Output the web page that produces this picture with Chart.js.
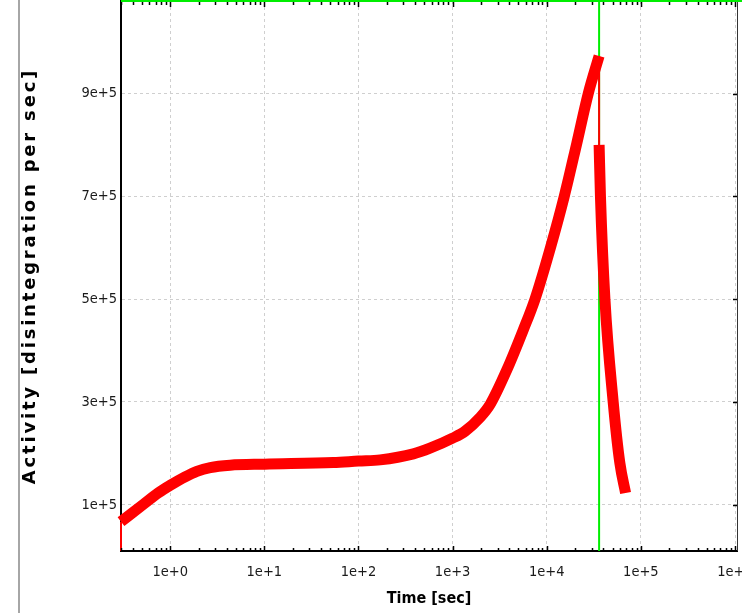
<!DOCTYPE html>
<html>
<head>
<meta charset="utf-8">
<script src="https://cdn.jsdelivr.net/npm/chart.js@4"></script>
<style>
  html, body { margin: 0; padding: 0; background: #fff; }
  #wrap { position: relative; width: 742px; height: 613px; overflow: hidden; }
  #frame { position: absolute; left: 18px; top: 0; width: 2px; height: 613px; background: #a6a6a6; }
</style>
</head>
<body>
<div id="wrap">
  <canvas id="activityChart" width="742" height="613"></canvas>
  <div id="frame"></div>
</div>
<script>
// values
const timeSec = [0.3, 0.3, 0.52, 0.75, 1, 1.44, 1.92, 2.66, 4.33, 10, 54, 100, 170, 383, 575, 1000, 1355,
  1960, 2500, 3760, 5630, 7500, 11000, 15350, 20780, 27600, 36000, 36000, 37200, 41500, 50800, 59800, 68800];
const activity = [0, 67000, 100900, 123300, 137800, 154300, 165000, 172400, 177000, 179000, 182000, 185000, 187300,
  199000, 210000, 229500, 243000, 270000, 295000, 362000, 440000, 500000, 601600, 700000, 802000, 900000, 973000,
  800000, 700000, 500000, 300000, 181000, 123000];
const markerTime = 36000;

const xTicks = [1, 10, 100, 1000, 10000, 100000, 1000000];
const xTickLabels = ["1e+0", "1e+1", "1e+2", "1e+3", "1e+4", "1e+5", "1e+6"];
const yTicks = [100000, 300000, 500000, 700000, 900000];
const yTickLabels = ["1e+5", "3e+5", "5e+5", "7e+5", "9e+5"];
const xMin = 0.3, xMax = 1.05e6;
const yMin = 1e4, yMax = 1.08e6;

const minorTicks = [];
for (let e = -1; e <= 5; e++) {
  for (let m = 2; m <= 9; m++) {
    const v = m * 10 ** e;
    if (v > xMin && v < xMax) minorTicks.push(v);
  }
}

const pts = timeSec.map((t, i) => ({ x: t, y: activity[i] }));
// the two sudden jumps are drawn thin, the smooth parts thick
const rise = pts.slice(1, 27);
const decay = pts.slice(27);
const jumps = [pts[0], pts[1], { x: pts[1].x * 1.0001, y: null }, pts[26], pts[27]];

const decor = {
  id: "decor",
  afterDraw(chart) {
    const ctx = chart.ctx;
    const a = chart.chartArea;
    const xs = chart.scales.x, ys = chart.scales.y;
    ctx.save();
    // right axis line
    ctx.strokeStyle = "#333";
    ctx.lineWidth = 1;
    ctx.beginPath();
    ctx.moveTo(a.right + 0.5, a.top);
    ctx.lineTo(a.right + 0.5, a.bottom);
    ctx.stroke();
    // inward ticks, bottom and top
    ctx.strokeStyle = "#000";
    ctx.lineWidth = 1.5;
    const mark = (v, len) => {
      const px = Math.round(xs.getPixelForValue(v)) + 0.5;
      ctx.beginPath();
      ctx.moveTo(px, a.bottom); ctx.lineTo(px, a.bottom - len);
      ctx.moveTo(px, a.top + 1); ctx.lineTo(px, a.top + 1 + len);
      ctx.stroke();
    };
    minorTicks.forEach(v => mark(v, 3));
    xTicks.forEach(v => mark(v, 5));
    yTicks.forEach(v => {
      const py = Math.round(ys.getPixelForValue(v)) + 0.5;
      ctx.beginPath();
      ctx.moveTo(a.right, py); ctx.lineTo(a.right - 4, py);
      ctx.stroke();
    });
    // green top line
    ctx.strokeStyle = "#00ee00";
    ctx.lineWidth = 2;
    ctx.beginPath();
    ctx.moveTo(a.left, 1);
    ctx.lineTo(chart.width, 1);
    ctx.stroke();
    // y title
    ctx.translate(30, 276);
    ctx.rotate(-Math.PI / 2);
    ctx.font = "bold 18px 'DejaVu Sans'";
    ctx.letterSpacing = "2.8px";
    ctx.fillStyle = "#000";
    ctx.textAlign = "center";
    ctx.textBaseline = "middle";
    ctx.fillText("Activity [disintegration per sec]", 0, 0);
    ctx.restore();
  }
};

const fam = "'DejaVu Sans Condensed', 'Liberation Sans', sans-serif";
const tickFont = { family: fam, size: 14.5 };

const thick = {
  borderColor: "#ff0000",
  borderWidth: 11,
  borderCapStyle: "butt",
  borderJoinStyle: "round",
  pointRadius: 0,
  cubicInterpolationMode: "monotone",
  clip: { left: 6, right: 6, top: 6, bottom: 0 },
};

new Chart(document.getElementById("activityChart"), {
  type: "line",
  data: {
    datasets: [
      Object.assign({ data: rise }, thick),
      Object.assign({ data: decay }, thick),
      {
        data: jumps,
        borderColor: "#ff0000",
        borderWidth: 2,
        pointRadius: 0,
        spanGaps: false,
        clip: { left: 6, right: 6, top: 6, bottom: 0 },
      },
      {
        data: [{ x: markerTime, y: yMin }, { x: markerTime, y: yMax }],
        borderColor: "#00ee00",
        borderWidth: 2,
        pointRadius: 0,
      },
    ],
  },
  options: {
    responsive: false,
    animation: false,
    events: [],
    layout: { autoPadding: false, padding: { top: 1, right: 5, left: 0, bottom: 0 } },
    plugins: { legend: { display: false }, tooltip: { enabled: false } },
    scales: {
      x: {
        type: "logarithmic",
        min: xMin,
        max: xMax,
        afterBuildTicks: s => { s.ticks = xTicks.map(v => ({ value: v })); },
        afterFit: s => { s.height = 62; s.paddingLeft = 0; s.paddingRight = 0; },
        ticks: {
          autoSkip: false,
          maxRotation: 0,
          padding: 13,
          color: "#1a1a1a",
          font: tickFont,
          callback: (v, i) => xTickLabels[i],
        },
        grid: { color: "#cfcfcf", lineWidth: 1, drawTicks: false },
        border: { color: "#000", width: 2, dash: [3, 3] },
        title: {
          display: true,
          text: "Time [sec]",
          color: "#000",
          font: { family: fam, size: 16, weight: "bold" },
          padding: { top: 0, bottom: 5 },
        },
      },
      y: {
        type: "linear",
        min: yMin,
        max: yMax,
        afterBuildTicks: s => { s.ticks = yTicks.map(v => ({ value: v })); },
        afterFit: s => { s.width = 121; s.paddingTop = 0; s.paddingBottom = 0; },
        ticks: {
          padding: 4,
          color: "#1a1a1a",
          font: tickFont,
          callback: (v, i) => yTickLabels[i],
        },
        grid: { color: "#cfcfcf", lineWidth: 1, drawTicks: false },
        border: { color: "#000", width: 2, dash: [3, 3] },
      },
    },
  },
  plugins: [decor],
});
</script>
</body>
</html>
